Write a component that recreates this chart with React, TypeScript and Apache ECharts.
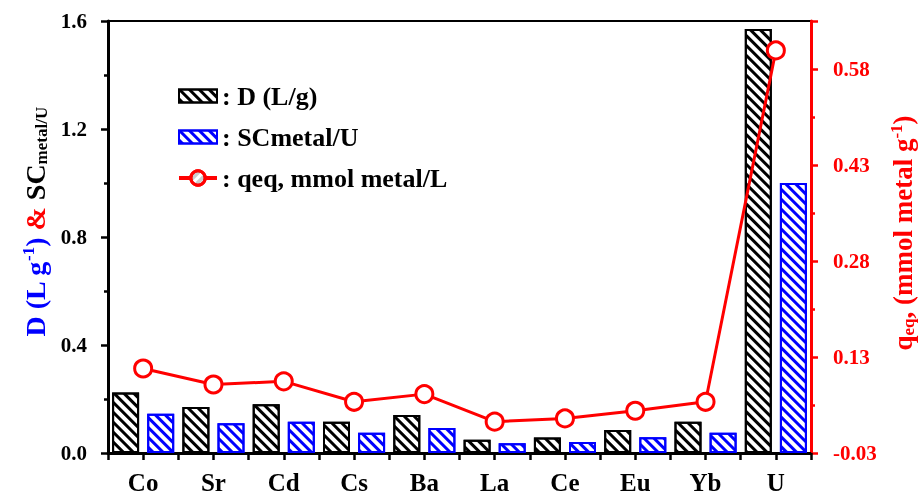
import React, { useEffect, useRef } from 'react';
import * as echarts from 'echarts';

// Elements on the x axis
const categories = ['Co', 'Sr', 'Cd', 'Cs', 'Ba', 'La', 'Ce', 'Eu', 'Yb', 'U'];
// Distribution coefficient D (L/g)
const dValues = [0.224, 0.17, 0.181, 0.116, 0.141, 0.049, 0.057, 0.085, 0.116, 1.57];
// Selectivity coefficient metal/U
const scValues = [0.145, 0.11, 0.116, 0.075, 0.093, 0.036, 0.041, 0.058, 0.075, 1.0];
// Equilibrium uptake q_eq (mmol metal g^-1)
const qeqValues = [0.107, 0.082, 0.087, 0.055, 0.067, 0.024, 0.029, 0.041, 0.055, 0.604];
// Right-axis tick labels (from -0.025 in steps of 0.15, rounded to 2 decimals)
const rightTickLabels = ['-0.03', '0.13', '0.28', '0.43', '0.58'];

const RIGHT_BASE = -0.025; // q_eq value at the bottom of the right axis
const RIGHT_STEP = 0.15;
const RIGHT_TOP = 0.65;

const FONT = "'Liberation Serif', 'Times New Roman', serif";
const BLUE = '#0000ff';
const RED = '#ff0000';
const BAR_ICON = 'path://M0 0H38V13H0Z';

const stripes = (color: string) => ({
  symbol: 'rect',
  symbolSize: 1,
  dashArrayX: [1, 0],
  dashArrayY: [2.5, 4],
  rotation: Math.PI / 4,
  color,
});

export default function App() {
  const ref = useRef<HTMLDivElement>(null);

  useEffect(() => {
    const chart = echarts.init(ref.current!, null, { renderer: 'svg' });
    const txt = (color: string, size: number, extra: any = {}) => ({
      color,
      fontSize: size,
      fontWeight: 'bold',
      fontFamily: FONT,
      ...extra,
    });

    chart.setOption({
      animation: false,
      aria: { enabled: true, decal: { show: true } },
      grid: {
        left: 108,
        right: 108,
        top: 21,
        bottom: 43,
        containLabel: false,
        outerBoundsMode: 'none',
        show: true,
        borderColor: '#000',
        borderWidth: 2,
      },
      legend: {
        orient: 'vertical',
        left: 172,
        top: 77,
        itemWidth: 38,
        itemHeight: 18,
        itemGap: 13,
        symbolKeepAspect: true,
        data: [
          { name: 'D (L/g)', icon: BAR_ICON },
          { name: 'SCmetal/U', icon: BAR_ICON },
          { name: 'qeq, mmol metal/L', lineStyle: { width: 4 }, itemStyle: { borderWidth: 3 } },
        ],
        formatter: (n: string) => ': ' + n,
        textStyle: txt('#000', 26, { lineHeight: 28 }),
      },
      xAxis: [
        {
          type: 'category',
          data: categories,
          position: 'bottom',
          boundaryGap: true,
          axisLine: { lineStyle: { color: '#000', width: 3 } },
          axisTick: { show: true, inside: false, length: 7, lineStyle: { color: '#000', width: 2.5 } },
          axisLabel: { ...txt('#000', 25, { lineHeight: 25 }), margin: 17 },
          splitLine: { show: false },
        },
        {
          type: 'category',
          data: categories,
          position: 'bottom',
          boundaryGap: true,
          axisLine: { show: false },
          axisTick: { show: true, alignWithLabel: true, inside: false, length: 7, lineStyle: { color: '#000', width: 2.5 } },
          axisLabel: { show: false },
          splitLine: { show: false },
        },
      ],
      yAxis: [
        {
          type: 'value',
          min: 0,
          max: 1.6,
          interval: 0.4,
          position: 'left',
          axisLine: { show: true, lineStyle: { color: '#000', width: 3 } },
          axisTick: { show: true, inside: false, length: 7, lineStyle: { color: '#000', width: 2.5 } },
          minorTick: { show: true, splitNumber: 2, length: 4, lineStyle: { color: '#000', width: 2.5 } },
          splitLine: { show: false },
          axisLabel: { ...txt('#000', 21), margin: 21, formatter: (v: number) => v.toFixed(1) },
          name: '{b|D (L g}{bs|-1}{b|)} {r|&} {k|SC}{ks|metal/U}',
          nameLocation: 'middle',
          nameRotate: 90,
          nameGap: 54,
          nameTextStyle: {
            ...txt(BLUE, 28),
            padding: [0, 0, 0, 30],
            rich: {
              b: txt(BLUE, 28, { lineHeight: 30 }),
              bs: txt(BLUE, 17, { padding: [0, 0, 15, 0] }),
              r: txt(RED, 28, { lineHeight: 30 }),
              k: txt('#000', 28, { lineHeight: 30 }),
              ks: txt('#000', 17, { padding: [11, 0, 0, 0] }),
            },
          },
        },
        {
          type: 'value',
          min: 0,
          max: RIGHT_TOP - RIGHT_BASE,
          interval: RIGHT_STEP,
          position: 'right',
          axisLine: { show: true, lineStyle: { color: RED, width: 3 } },
          axisTick: { show: true, inside: false, length: 7, lineStyle: { color: RED, width: 2.5 } },
          minorTick: { show: true, splitNumber: 2, length: 4, lineStyle: { color: RED, width: 2.5 } },
          splitLine: { show: false },
          axisLabel: {
            ...txt(RED, 21),
            margin: 22,
            formatter: (v: number) => {
              const i = v / RIGHT_STEP;
              return Math.abs(i - Math.round(i)) < 1e-6 ? rightTickLabels[Math.round(i)] ?? '' : '';
            },
          },
          name: '{a|q}{as|eq}{a|, (mmol metal g}{ap|-1}{a|)}',
          nameLocation: 'middle',
          nameRotate: 90,
          nameGap: 69,
          nameTextStyle: {
            ...txt(RED, 27),
            padding: [0, 0, 0, 8],
            rich: {
              a: txt(RED, 27, { lineHeight: 29 }),
              as: txt(RED, 17, { padding: [10, 0, 0, 0] }),
              ap: txt(RED, 17, { padding: [0, 0, 14, 0] }),
            },
          },
        },
      ],
      series: [
        {
          name: 'D (L/g)',
          type: 'bar',
          data: dValues,
          barWidth: 27,
          barGap: '30%',
          itemStyle: { color: '#fff', borderColor: '#000', borderWidth: 2, decal: stripes('#000') },
        },
        {
          name: 'SCmetal/U',
          type: 'bar',
          data: scValues,
          barWidth: 27,
          barGap: '30%',
          itemStyle: { color: '#fff', borderColor: BLUE, borderWidth: 2, decal: stripes(BLUE) },
        },
        {
          name: 'qeq, mmol metal/L',
          type: 'line',
          yAxisIndex: 1,
          data: qeqValues.map((q) => q - RIGHT_BASE),
          symbol: 'circle',
          symbolSize: 17,
          z: 5,
          lineStyle: { color: RED, width: 3 },
          itemStyle: { color: '#fff', borderColor: RED, borderWidth: 3, decal: 'none' },
        },
      ],
    });

    return () => chart.dispose();
  }, []);

  return <div ref={ref} style={{ position: 'fixed', left: 0, top: 0, width: 919, height: 496 }} />;
}
